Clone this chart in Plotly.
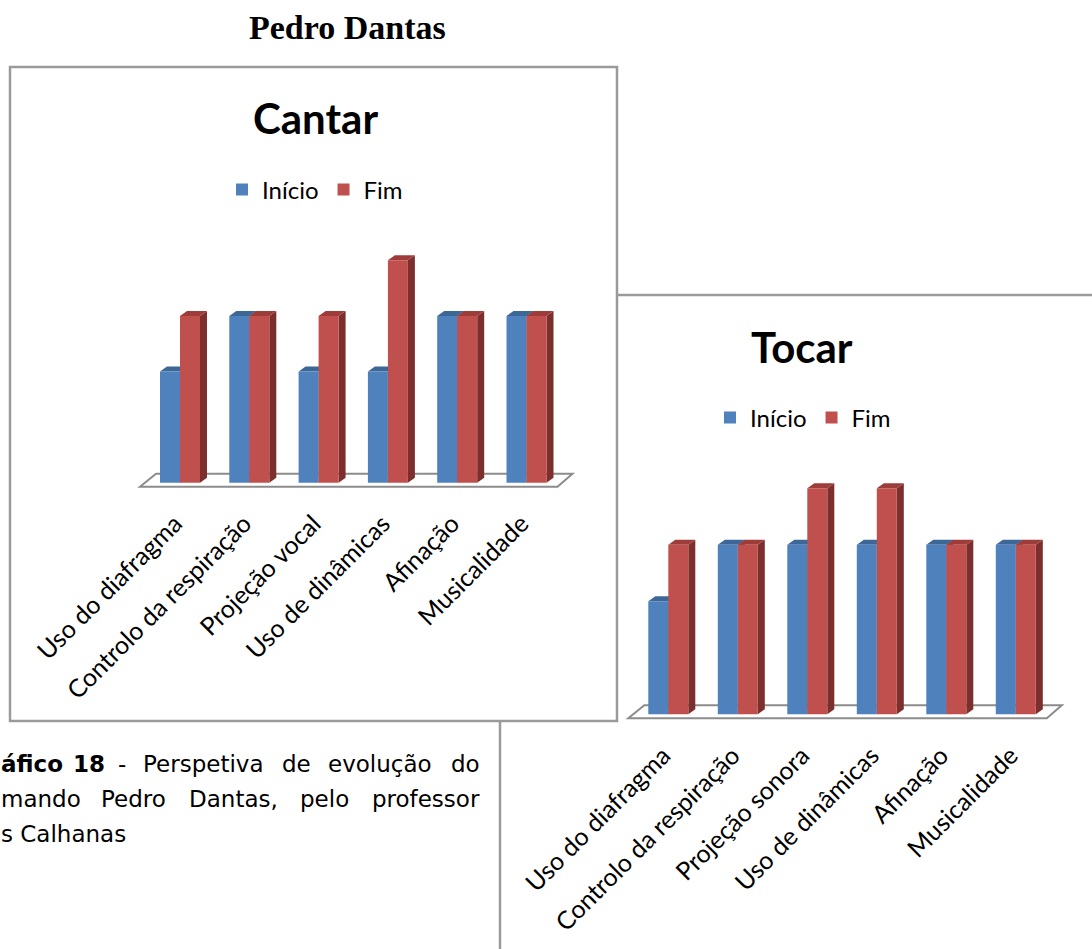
import plotly.graph_objects as go

# ---------------- data ----------------
series_names = ["Início", "Fim"]
categories_cantar = ["Uso do diafragma", "Controlo da respiração", "Projeção vocal",
                     "Uso de dinâmicas", "Afinação", "Musicalidade"]
cantar_inicio = [2, 3, 2, 2, 3, 3]
cantar_fim = [3, 3, 3, 4, 3, 3]

categories_tocar = ["Uso do diafragma", "Controlo da respiração", "Projeção sonora",
                    "Uso de dinâmicas", "Afinação", "Musicalidade"]
tocar_inicio = [2, 3, 3, 3, 3, 3]
tocar_fim = [3, 3, 4, 4, 3, 3]

# ---------------- styling / layout ----------------
W, H = 1092, 949
BLUE, RED = "#4F81BD", "#C0504D"
BLUE_TOP, BLUE_SIDE = "#3D6797", "#365C88"
RED_TOP, RED_SIDE = "#9E3C39", "#7D2F2D"
BOX_GRAY = "#9A9A9A"
TICK_FONT = dict(family="Lato", size=25, color="black")


def px(x):
    return x / W


def py(y):
    return 1 - y / H


charts = [
    dict(title="Cantar", cats=categories_cantar, a=cantar_inicio, b=cantar_fim,
         cx0=180.0, step=69.3, base=482.7, unit=55.6, xa="x", ya="y",
         legend="legend", title_xy=(315, 118), legend_xy=(315, 190)),
    dict(title="Tocar", cats=categories_tocar, a=tocar_inicio, b=tocar_fim,
         cx0=668.3, step=69.5, base=714.3, unit=56.5, xa="x2", ya="y2",
         legend="legend2", title_xy=(802, 347), legend_xy=(803, 418)),
]

XR = (-0.8, 5.8)
YR = (-0.35, 4.6)
BAR_PX, DX_PX, DY_PX = 20, 7, 5
LABEL_SHIFT_PX = 5

fig = go.Figure()

shapes = [
    # right (Tocar) box – drawn first, partly hidden by the left box
    dict(type="rect", xref="paper", yref="paper", x0=px(500), x1=px(1104), y0=py(960), y1=py(295),
         line=dict(color=BOX_GRAY, width=2.5), fillcolor="white", layer="below"),
    # left (Cantar) box
    dict(type="rect", xref="paper", yref="paper", x0=px(10), x1=px(617), y0=py(721), y1=py(67),
         line=dict(color=BOX_GRAY, width=2.5), fillcolor="white", layer="below"),
]
annotations = []
layout_axes = {}

for c in charts:
    step, unit = c["step"], c["unit"]
    w = BAR_PX / step
    ddx, ddy = DX_PX / step, DY_PX / unit
    n = len(c["cats"])
    xs = list(range(n))

    fig.add_trace(go.Bar(x=xs, y=c["a"], name=series_names[0], width=w, offset=-w,
                         marker=dict(color=BLUE, line=dict(width=0)),
                         xaxis=c["xa"], yaxis=c["ya"], legend=c["legend"]))
    fig.add_trace(go.Bar(x=xs, y=c["b"], name=series_names[1], width=w, offset=0,
                         marker=dict(color=RED, line=dict(width=0)),
                         xaxis=c["xa"], yaxis=c["ya"], legend=c["legend"]))

    # floor (perspective plate)
    fl = -40 / step
    bl = -24 / step
    br = (n - 1) + 46 / step
    fr = (n - 1) + 31 / step
    yf, yb = -4 / unit, 9 / unit
    shapes.append(dict(type="path", xref=c["xa"], yref=c["ya"], layer="below",
                       path=f"M{fl},{yf} L{bl},{yb} L{br},{yb} L{fr},{yf} Z",
                       line=dict(color="#8C8C8C", width=2), fillcolor="white"))

    # 3-D faces (sides, then tops) computed from the data
    for vals, off, side in ((c["a"], -w, BLUE_SIDE), (c["b"], 0, RED_SIDE)):
        for i, v in enumerate(vals):
            x1 = i + off + w
            shapes.append(dict(type="path", xref=c["xa"], yref=c["ya"], layer="below",
                               path=f"M{x1},0 L{x1+ddx},{ddy} L{x1+ddx},{v+ddy} L{x1},{v} Z",
                               fillcolor=side, line=dict(width=0)))
    for vals, off, top in ((c["a"], -w, BLUE_TOP), (c["b"], 0, RED_TOP)):
        for i, v in enumerate(vals):
            x0 = i + off
            x1 = x0 + w
            shapes.append(dict(type="path", xref=c["xa"], yref=c["ya"], layer="below",
                               path=f"M{x0},{v} L{x0+ddx},{v+ddy} L{x1+ddx},{v+ddy} L{x1},{v} Z",
                               fillcolor=top, line=dict(width=0)))

    # axes domains from the pixel geometry
    xl = c["cx0"] + XR[0] * step
    xr = c["cx0"] + XR[1] * step
    yb_px = c["base"] - YR[0] * unit
    yt_px = c["base"] - YR[1] * unit
    xkey = "xaxis" if c["xa"] == "x" else "xaxis2"
    ykey = "yaxis" if c["ya"] == "y" else "yaxis2"
    layout_axes[xkey] = dict(domain=[px(xl), px(xr)], range=list(XR), anchor=c["ya"],
                             tickmode="array", tickvals=[i - LABEL_SHIFT_PX / step for i in xs],
                             ticktext=c["cats"],
                             tickangle=-45, tickfont=TICK_FONT, showgrid=False,
                             zeroline=False, showline=False, ticks="", automargin=False,
                             ticklabelstandoff=1)
    layout_axes[ykey] = dict(domain=[py(yb_px), py(yt_px)], range=list(YR), anchor=c["xa"],
                             visible=False, showgrid=False, zeroline=False)

    tx, ty = c["title_xy"]
    annotations.append(dict(text=f"<b>{c['title']}</b>", xref="paper", yref="paper",
                            x=px(tx), y=py(ty), xanchor="center", yanchor="middle",
                            showarrow=False, font=dict(family="Lato", size=42, color="black")))

# page header
annotations.append(dict(text="<b>Pedro Dantas</b>", xref="paper", yref="paper",
                        x=px(347), y=py(28), xanchor="center", yanchor="middle", showarrow=False,
                        font=dict(family="Liberation Serif", size=34, color="black")))

# caption (justified text, placed word by word: text, x, anchor)
caption_lines = [
    (764, [("<b>áfico</b>", 0, "left"), ("<b>18</b>", 72, "left"), ("-", 117, "left"),
           ("Perspetiva", 142, "left"), ("de", 281, "left"), ("evolução", 327, "left"),
           ("do", 481, "right")]),
    (799, [("mando", 0, "left"), ("Pedro", 100, "left"), ("Dantas,", 188, "left"),
           ("pelo", 299, "left"), ("professor", 481, "right")]),
    (834, [("s Calhanas", 0, "left")]),
]
for yline, words in caption_lines:
    for word, xw, anchor in words:
        xpos = xw - 1 if anchor == "left" else xw + 1
        annotations.append(dict(text=word, xref="paper", yref="paper", x=px(xpos), y=py(yline),
                                xanchor=anchor, yanchor="middle", showarrow=False,
                                font=dict(family="DejaVu Sans", size=23, color="black")))

legend_common = dict(orientation="h", xanchor="center", yanchor="middle",
                     font=dict(family="Lato", size=24, color="black"),
                     bgcolor="rgba(0,0,0,0)", itemwidth=30, traceorder="normal")

fig.update_layout(
    width=W, height=H,
    margin=dict(l=0, r=0, t=0, b=0),
    paper_bgcolor="white", plot_bgcolor="rgba(0,0,0,0)",
    barmode="overlay",
    showlegend=True,
    legend=dict(x=px(charts[0]["legend_xy"][0]), y=py(charts[0]["legend_xy"][1]), **legend_common),
    legend2=dict(x=px(charts[1]["legend_xy"][0]), y=py(charts[1]["legend_xy"][1]), **legend_common),
    shapes=shapes,
    annotations=annotations,
    **layout_axes,
)

fig.write_html("out.html", config={"displayModeBar": False},
               post_script="document.body.style.margin='0px';")
